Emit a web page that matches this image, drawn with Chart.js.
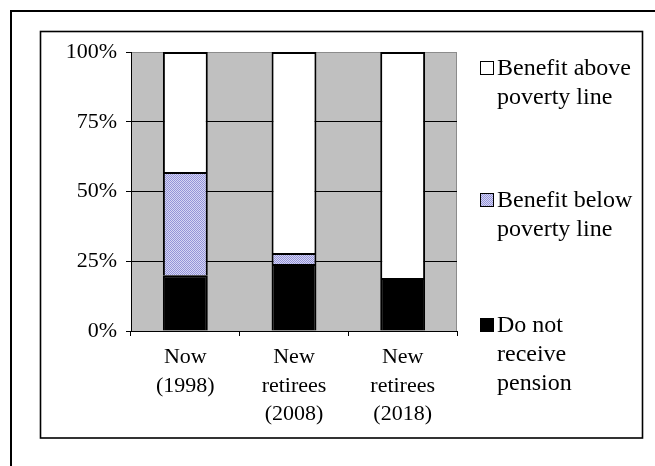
<!DOCTYPE html>
<html>
<head>
<meta charset="utf-8">
<title>Pension coverage of retirees</title>
<script src="https://cdn.jsdelivr.net/npm/chart.js@4/dist/chart.umd.min.js"></script>
<style>
  html, body { margin: 0; padding: 0; background: #ffffff; }
  #wrap { width: 655px; height: 466px; }
</style>
</head>
<body>
<div id="wrap"><canvas id="chart" width="655" height="466"></canvas></div>
<script>
// Categories (multi-line axis labels)
const categories = [
  ['Now', '(1998)'],
  ['New', 'retirees', '(2008)'],
  ['New', 'retirees', '(2018)']
];

// Shares of retirees, percent (stacked bottom to top)
const noPension    = [20, 24, 19];
const belowPoverty = [37, 4, 0];
const abovePoverty = [43, 72, 81];

const seriesNames = [
  'Do not receive pension',
  'Benefit below poverty line',
  'Benefit above poverty line'
];

// Legend text, broken into lines, top entry first
const legendLines = [
  ['Benefit above', 'poverty line'],
  ['Benefit below', 'poverty line'],
  ['Do not', 'receive', 'pension']
];

const yTickValues = [0, 25, 50, 75, 100];

const SERIF = '"Liberation Serif", "Times New Roman", serif';

// Dotted lavender fill for the "below poverty line" segments
function makeDotPattern() {
  const c = document.createElement('canvas');
  c.width = 4; c.height = 4;
  const g = c.getContext('2d');
  g.fillStyle = '#d6d6f4';
  g.fillRect(0, 0, 4, 4);
  g.fillStyle = '#9494d8';
  for (let y = 0; y < 4; y++) {
    for (let x = 0; x < 4; x++) {
      if ((x + y) % 2 === 0) g.fillRect(x, y, 1, 1);
    }
  }
  return g.createPattern(c, 'repeat');
}
const dotPattern = makeDotPattern();

// Frames, grey plot background and the legend
const decorations = {
  id: 'decorations',
  beforeDraw(chart) {
    const ctx = chart.ctx;
    const a = chart.chartArea;
    ctx.save();
    ctx.fillStyle = '#ffffff';
    ctx.fillRect(0, 0, chart.width, chart.height);

    // outer frame (runs off the right and bottom edges)
    ctx.strokeStyle = '#000000';
    ctx.lineWidth = 2;
    ctx.strokeRect(11, 11, 700, 500);

    // inner chart box
    ctx.lineWidth = 1.6;
    ctx.strokeRect(40.5, 31.5, 602, 406.5);

    // plot area
    ctx.fillStyle = '#c0c0c0';
    ctx.fillRect(a.left, a.top, a.right - a.left, a.bottom - a.top);
    ctx.strokeStyle = '#8c8c8c';
    ctx.lineWidth = 1;
    ctx.strokeRect(a.left + 0.5, a.top + 0.5, a.right - a.left - 1, a.bottom - a.top);
    ctx.restore();
  },
  afterDraw(chart) {
    const ctx = chart.ctx;
    const sets = chart.data.datasets;
    const order = [2, 1, 0];
    const firstBaselines = [75, 207, 332];
    const lineStep = 29;
    ctx.save();
    ctx.font = '24px ' + SERIF;
    ctx.textBaseline = 'alphabetic';
    ctx.textAlign = 'left';
    order.forEach((di, k) => {
      const base = firstBaselines[k];
      const boxTop = base - 14;
      ctx.fillStyle = sets[di].backgroundColor;
      ctx.fillRect(480.5, boxTop + 0.5, 13, 13);
      ctx.strokeStyle = '#000000';
      ctx.lineWidth = 1;
      ctx.strokeRect(480.5, boxTop + 0.5, 13, 13);
      ctx.fillStyle = '#000000';
      legendLines[k].forEach((line, j) => {
        ctx.fillText(line, 497, base + j * lineStep);
      });
    });
    ctx.restore();
  }
};

new Chart(document.getElementById('chart'), {
  type: 'bar',
  data: {
    labels: categories,
    datasets: [
      { label: seriesNames[0], data: noPension,    backgroundColor: '#000000', borderColor: '#000000', borderWidth: 2 },
      { label: seriesNames[1], data: belowPoverty, backgroundColor: dotPattern, borderColor: '#000000', borderWidth: 2 },
      { label: seriesNames[2], data: abovePoverty, backgroundColor: '#ffffff', borderColor: '#000000', borderWidth: 2 }
    ]
  },
  options: {
    responsive: false,
    devicePixelRatio: 1,
    animation: false,
    layout: { padding: { left: 40, top: 52, right: 198, bottom: 35 } },
    datasets: { bar: { categoryPercentage: 1, barPercentage: 0.413 } },
    plugins: {
      legend: { display: false },
      tooltip: { enabled: false },
      title: { display: false }
    },
    scales: {
      x: {
        stacked: true,
        offset: true,
        afterFit(scale) { scale.height = 100; },
        grid: {
          offset: true,
          drawOnChartArea: false,
          drawTicks: true,
          tickLength: 5,
          color: '#000000',
          tickColor: '#000000'
        },
        border: { display: true, color: '#000000', width: 1 },
        ticks: {
          color: '#000000',
          padding: 7,
          maxRotation: 0,
          autoSkip: false,
          font: { family: SERIF, size: 22, lineHeight: 1.3 }
        }
      },
      y: {
        stacked: true,
        min: 0,
        max: 100,
        afterFit(scale) { scale.width = 91; },
        afterBuildTicks(scale) { scale.ticks = yTickValues.map(v => ({ value: v })); },
        grid: {
          drawTicks: true,
          tickLength: 5,
          tickColor: '#000000',
          color: (c) => (c.tick && (c.tick.value === 0 || c.tick.value === 100)) ? 'rgba(0,0,0,0)' : '#000000',
          lineWidth: 1
        },
        border: { display: true, color: '#000000', width: 1 },
        ticks: {
          color: '#000000',
          padding: 9,
          font: { family: SERIF, size: 22 },
          callback: (v) => v + '%'
        }
      }
    }
  },
  plugins: [decorations]
});
</script>
</body>
</html>
